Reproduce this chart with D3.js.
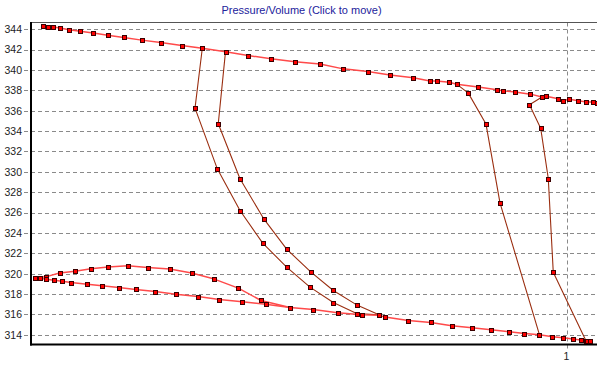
<!DOCTYPE html>
<html>
<head>
<meta charset="utf-8">
<script src="https://cdn.jsdelivr.net/npm/d3@7"></script>
<style>
  html, body { margin: 0; padding: 0; background: #fff; }
  svg { display: block; }
</style>
</head>
<body>
<svg id="chart" width="597" height="365"></svg>
<script>
// Pressure / volume samples: [volume ratio, pressure]
const upperLine = [
  [0.0229,344.32],[0.0312,344.20],[0.0416,344.20],[0.0541,344.10],[0.0709,343.93],
  [0.0914,343.80],[0.1162,343.61],[0.1431,343.41],[0.1729,343.18],[0.2065,342.92],
  [0.2420,342.68],[0.2812,342.39],[0.3196,342.12],[0.3629,341.79],[0.4049,341.41],
  [0.4478,341.09],[0.4925,340.79],[0.5392,340.57],[0.5826,340.10],[0.6282,339.84],
  [0.6698,339.50],[0.7132,339.22],[0.7444,338.92],[0.7569,338.92],[0.7804,338.78],
  [0.7942,338.60],[0.8345,338.31],[0.8694,338.04],[0.8806,337.94],[0.9030,337.84],
  [0.9319,337.62],[0.9534,337.33],[0.9608,337.42],[0.9838,337.16],[0.9931,336.99],
  [1.0043,337.11],[1.0211,336.98],[1.0364,336.85],[1.0485,336.84],[1.0560,336.74]
];

const lowerLine = [
  [0.0075,319.56],[0.0162,319.56],[0.0285,319.45],[0.0429,319.35],[0.0578,319.25],
  [0.0746,319.13],[0.1050,318.96],[0.1325,318.81],[0.1636,318.64],[0.1953,318.45],
  [0.2319,318.25],[0.2700,317.99],[0.3116,317.76],[0.3513,317.46],[0.3942,317.24],
  [0.4379,317.01],[0.4832,316.68],[0.5267,316.48],[0.5722,316.16],[0.6170,315.96],
  [0.6493,315.91],[0.6604,315.74],[0.7039,315.40],[0.7457,315.21],[0.7849,314.88],
  [0.8228,314.69],[0.8582,314.49],[0.8923,314.30],[0.9207,314.12],[0.9487,314.00],
  [0.9729,313.82],[0.9931,313.71],[1.0106,313.58],[1.0256,313.48],[1.0367,313.38],
  [1.0429,313.38]
];

const returnArc = [
  [0.0069,319.59],[0.0289,319.71],[0.0532,320.07],[0.0821,320.24],[0.1119,320.48],
  [0.1437,320.65],[0.1804,320.77],[0.2177,320.60],[0.2588,320.45],[0.2998,320.06],
  [0.3420,319.47],[0.3868,318.58],[0.4291,317.37],[0.4832,316.68]
];

const expansionA = [
  [0.3196,342.12],[0.3060,336.25],[0.3476,330.29],[0.3899,326.20],[0.4323,323.00],
  [0.4770,320.64],[0.5205,318.68],[0.5640,317.17],[0.6076,316.09],[0.6493,315.96]
];

const expansionB = [
  [0.3629,341.79],[0.3494,334.71],[0.3899,329.31],[0.4347,325.35],[0.4770,322.41],
  [0.5224,320.15],[0.5640,318.35],[0.6091,316.89],[0.6493,315.96]
];

const expansionC = [
  [0.7942,338.60],[0.8159,337.72],[0.8489,334.68],[0.8750,326.95],[0.9487,314.00]
];

const expansionD = [
  [0.9534,337.33],[0.9300,336.57],[0.9509,334.28],[0.9651,329.34],[0.9744,320.15],
  [1.0354,313.41]
];

const pressureTicks = [314,316,318,320,322,324,326,328,330,332,334,336,338,340,342,344];
const volumeTicks = [1];
const chartTitle = "Pressure/Volume (Click to move)";

const svg = d3.select("#chart");
const plot = { left: 31, right: 597, top: 22.5, bottom: 344.5 };

const x = d3.scaleLinear().domain([0, 1.056]).range([plot.left, plot.right]);
const y = d3.scaleLinear().domain([313.05, 344.65]).range([plot.bottom, plot.top]);

// title
svg.append("text")
  .attr("x", 301.5).attr("y", 14)
  .attr("text-anchor", "middle")
  .attr("font-family", "Liberation Sans, Arial, sans-serif")
  .attr("font-size", 11)
  .attr("fill", "#22229c")
  .text(chartTitle);

// horizontal dashed gridlines (they also run a little left of the axis as ticks)
svg.append("g")
  .selectAll("line")
  .data(pressureTicks)
  .join("line")
  .attr("x1", 24).attr("x2", plot.right)
  .attr("y1", d => Math.round(y(d)) + 0.5).attr("y2", d => Math.round(y(d)) + 0.5)
  .attr("stroke", "#8a8a8a")
  .attr("stroke-width", 1)
  .attr("stroke-dasharray", "4,3");

// vertical dashed gridline
svg.append("g")
  .selectAll("line")
  .data(volumeTicks)
  .join("line")
  .attr("x1", d => Math.round(x(d)) + 0.5).attr("x2", d => Math.round(x(d)) + 0.5)
  .attr("y1", plot.top).attr("y2", plot.bottom + 7)
  .attr("stroke", "#8a8a8a")
  .attr("stroke-width", 1)
  .attr("stroke-dasharray", "4,3");

// y axis labels
const yAxis = d3.axisLeft(y).tickValues(pressureTicks).tickSize(0).tickPadding(0);
const gy = svg.append("g").attr("transform", "translate(22,0)").call(yAxis);
gy.select(".domain").remove();
gy.selectAll("text")
  .attr("font-family", "Liberation Sans, Arial, sans-serif")
  .attr("font-size", 10.5)
  .attr("fill", "#222");

// x axis labels
const xAxis = d3.axisBottom(x).tickValues(volumeTicks).tickSize(0).tickPadding(0)
  .tickFormat(d3.format("d"));
const gx = svg.append("g").attr("transform", `translate(-1,${plot.bottom + 8})`).call(xAxis);
gx.select(".domain").remove();
gx.selectAll("text")
  .attr("font-family", "Liberation Sans, Arial, sans-serif")
  .attr("font-size", 10.5)
  .attr("fill", "#222");

// frame
svg.append("line")
  .attr("x1", plot.left).attr("x2", plot.right)
  .attr("y1", plot.top).attr("y2", plot.top)
  .attr("stroke", "#555").attr("stroke-width", 1);
svg.append("line")
  .attr("x1", plot.left).attr("x2", plot.left)
  .attr("y1", plot.top - 0.5).attr("y2", plot.bottom + 1)
  .attr("stroke", "#000").attr("stroke-width", 2);
svg.append("line")
  .attr("x1", plot.left - 1).attr("x2", plot.right)
  .attr("y1", plot.bottom).attr("y2", plot.bottom)
  .attr("stroke", "#000").attr("stroke-width", 2);

svg.append("clipPath").attr("id", "plotClip")
  .append("rect")
  .attr("x", plot.left).attr("y", plot.top)
  .attr("width", plot.right - plot.left).attr("height", plot.bottom - plot.top);

const line = d3.line().x(d => x(d[0])).y(d => y(d[1]));
const layer = svg.append("g").attr("clip-path", "url(#plotClip)");

const series = [
  { data: expansionA, color: "#9a2e10", width: 1.1 },
  { data: expansionB, color: "#9a2e10", width: 1.1 },
  { data: expansionC, color: "#9a2e10", width: 1.1 },
  { data: expansionD, color: "#9a2e10", width: 1.1 },
  { data: returnArc, color: "#ff4a4a", width: 1.5 },
  { data: lowerLine, color: "#ff4a4a", width: 1.5 },
  { data: upperLine, color: "#ff4a4a", width: 1.5 }
];

layer.selectAll("path.trace")
  .data(series)
  .join("path")
  .attr("class", "trace")
  .attr("d", d => line(d.data))
  .attr("fill", "none")
  .attr("stroke", d => d.color)
  .attr("stroke-width", d => d.width)
  .attr("stroke-linejoin", "round");

// square sample markers: 5px outline with a 3px red core
const allPoints = series.flatMap(s => s.data);
layer.selectAll("rect.pt")
  .data(allPoints)
  .join("rect")
  .attr("class", "pt")
  .attr("x", d => Math.round(x(d[0])) - 1.5)
  .attr("y", d => Math.round(y(d[1])) - 1.5)
  .attr("width", 4).attr("height", 4)
  .attr("fill", "#ff0000")
  .attr("stroke", "#3a0000")
  .attr("stroke-width", 1)
  .attr("shape-rendering", "crispEdges");
</script>
</body>
</html>
